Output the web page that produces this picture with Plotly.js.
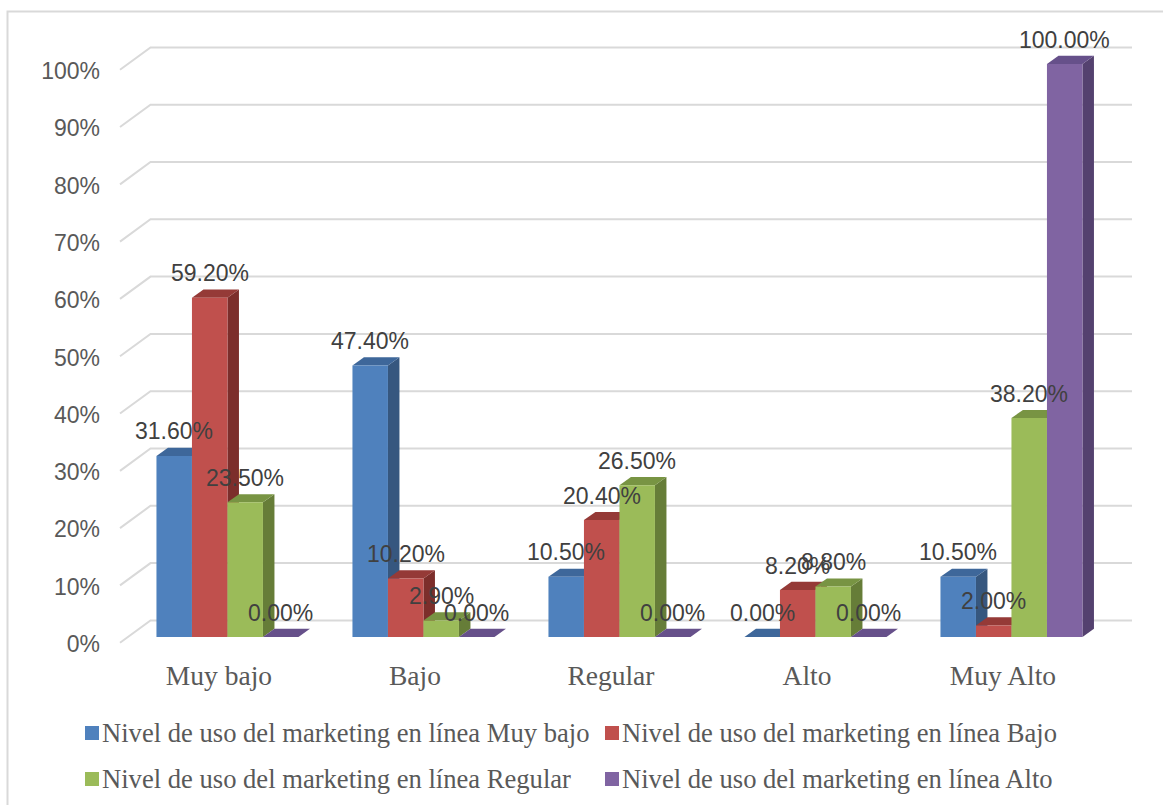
<!DOCTYPE html>
<html><head><meta charset="utf-8">
<script src="https://cdn.plot.ly/plotly-3.0.1.min.js"></script>
<style>html,body{margin:0;padding:0;background:#fff}#chart{width:1163px;height:805px}</style>
</head><body><div id="chart"></div>
<script>
// ---------- data ----------
const categories = ['Muy bajo', 'Bajo', 'Regular', 'Alto', 'Muy Alto'];
const seriesNames = [
  'Nivel de uso del marketing en línea Muy bajo',
  'Nivel de uso del marketing en línea Bajo',
  'Nivel de uso del marketing en línea Regular',
  'Nivel de uso del marketing en línea Alto'
];
const serieMuyBajo = [31.6, 47.4, 10.5, 0.0, 10.5];
const serieBajo    = [59.2, 10.2, 20.4, 8.2, 2.0];
const serieRegular = [23.5, 2.9, 26.5, 8.8, 38.2];
const serieAlto    = [0.0, 0.0, 0.0, 0.0, 100.0];
const yTicks = [0, 10, 20, 30, 40, 50, 60, 70, 80, 90, 100];
const yTickLabels = yTicks.map(v => v + '%');

// ---------- styling / geometry ----------
const series = [serieMuyBajo, serieBajo, serieRegular, serieAlto];
const frontColors = ['#4F81BD', '#C0504D', '#9BBB59', '#8064A2'];
const topColors   = ['#3E679A', '#953A37', '#789443', '#66508A'];
const sideColors  = ['#36577F', '#7C2E2B', '#667D38', '#54416F'];

const W = 1163, H = 805;
const M = {l: 119, r: 29, t: 30, b: 155};
const plotW = W - M.l - M.r, plotH = H - M.t - M.b;
const pxPerCat = 196;
const xStart = -0.51;
const xRange = [xStart, xStart + plotW / pxPerCat];
const pxPerPct = 5.73;
const yZeroPx = 637;
const yRange = [-(M.t + plotH - yZeroPx) / pxPerPct, (yZeroPx - M.t) / pxPerPct];

const barW = 35.5 / pxPerCat;
const groupStart = -62.5 / pxPerCat;
const depthX = 11.5 / pxPerCat, depthY = 8.2 / pxPerPct;

const px2cx = px => xStart + (px - M.l) / pxPerCat;     // pixel -> x data
const px2px = px => (px - M.l) / plotW;                  // pixel -> paper x
const py2py = py => (H - M.b - py) / plotH;              // pixel -> paper y

const barCenter = (i, k) => i + groupStart + (k + 0.5) * barW;

// ---------- traces ----------
const traces = series.map((vals, k) => ({
  type: 'bar',
  name: seriesNames[k],
  x: categories.map((_, i) => barCenter(i, k)),
  y: vals,
  width: categories.map(() => barW),
  marker: {color: frontColors[k], line: {width: 0}},
  hoverinfo: 'skip',
  showlegend: false
}));

// ---------- shapes ----------
const shapes = [];
// outer border
shapes.push({type: 'rect', xref: 'paper', yref: 'paper',
  x0: px2px(7.5), x1: px2px(1175), y0: py2py(820), y1: py2py(11.5),
  line: {color: '#D9D9D9', width: 2}, fillcolor: 'rgba(0,0,0,0)', layer: 'below'});
// gridlines (front diagonal + back wall)
const gFrontX = px2cx(120), gBackX = px2cx(150.5), gEndX = px2cx(1132);
yTicks.forEach(t => {
  const fy = t - 1.0, by = t + 2.9;
  shapes.push({type: 'path', xref: 'x', yref: 'y', layer: 'below',
    path: `M ${gFrontX},${fy} L ${gBackX},${by} L ${gEndX},${by}`,
    line: {color: '#D9D9D9', width: 2}});
});
// 3D faces
categories.forEach((_, i) => {
  series.forEach((vals, k) => {
    const v = vals[i];
    const xl = i + groupStart + k * barW, xr = xl + barW;
    if (v > 0) {
      shapes.push({type: 'path', xref: 'x', yref: 'y', layer: 'below',
        path: `M ${xr},0 L ${xr},${v} L ${xr + depthX},${v + depthY} L ${xr + depthX},${depthY} Z`,
        fillcolor: sideColors[k], line: {width: 0}});
    }
    shapes.push({type: 'path', xref: 'x', yref: 'y', layer: 'below',
      path: `M ${xl},${v} L ${xr},${v} L ${xr + depthX},${v + depthY} L ${xl + depthX},${v + depthY} Z`,
      fillcolor: topColors[k], line: {width: 0}});
  });
});

// ---------- annotations ----------
const annotations = [];
series.forEach((vals, k) => {
  vals.forEach((v, i) => {
    annotations.push({xref: 'x', yref: 'y', x: barCenter(i, k), y: v,
      yshift: 24.5, showarrow: false, xanchor: 'center', yanchor: 'middle',
      text: v.toFixed(2) + '%',
      font: {family: 'Liberation Sans, Arial, sans-serif', size: 23, color: '#404040'}});
  });
});
// custom legend
const legCols = [85, 605], legRows = [733, 779];
seriesNames.forEach((name, k) => {
  const cx = legCols[k % 2], cy = legRows[Math.floor(k / 2)];
  shapes.push({type: 'rect', xref: 'paper', yref: 'paper',
    x0: px2px(cx), x1: px2px(cx + 14), y0: py2py(cy + 7), y1: py2py(cy - 7),
    fillcolor: frontColors[k], line: {width: 0}});
  annotations.push({xref: 'paper', yref: 'paper', x: px2px(cx + 15), y: py2py(cy),
    xanchor: 'left', yanchor: 'middle', showarrow: false, text: name,
    font: {family: 'Liberation Serif, Times New Roman, serif', size: 26.6, color: '#595959'}});
});

const layout = {
  width: W, height: H,
  margin: M,
  paper_bgcolor: '#FFFFFF', plot_bgcolor: 'rgba(0,0,0,0)',
  barmode: 'overlay',
  showlegend: false,
  xaxis: {type: 'linear', range: xRange, tickvals: categories.map((_, i) => i), ticktext: categories,
    showgrid: false, zeroline: false, showline: false, ticks: '', ticklabelstandoff: 6,
    tickfont: {family: 'Liberation Serif, Times New Roman, serif', size: 27.5, color: '#595959'}},
  yaxis: {type: 'linear', range: yRange, tickvals: yTicks, ticktext: yTickLabels,
    showgrid: false, zeroline: false, showline: false, ticks: '',
    ticklabelshift: 7, ticklabelstandoff: 18,
    tickfont: {family: 'Liberation Sans, Arial, sans-serif', size: 23, color: '#595959'}},
  shapes: shapes,
  annotations: annotations
};

Plotly.newPlot('chart', traces, layout, {staticPlot: true, displayModeBar: false});
</script>
</body></html>
